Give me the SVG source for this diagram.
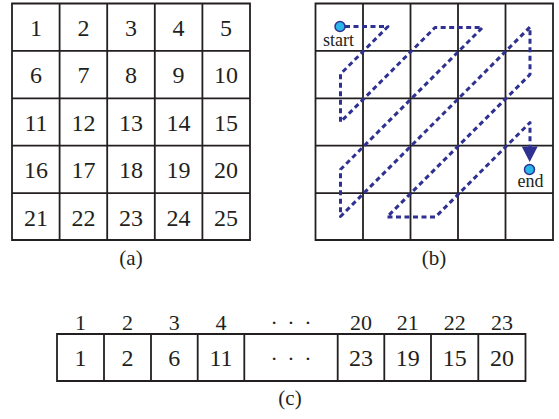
<svg xmlns="http://www.w3.org/2000/svg" width="559" height="419" viewBox="0 0 559 419">
<style>
.g{fill:none;stroke:#231f20;stroke-width:1.8}
text{font-family:'Liberation Serif','DejaVu Serif',serif;fill:#231f20;text-anchor:middle}
.n{font-size:24px}
.t{font-size:21px}
.u{font-size:22px}
.s{font-size:18px}
.d{font-size:22px;letter-spacing:2px}
.p{fill:none;stroke:#2e3192;stroke-width:3;stroke-dasharray:5 3.5;stroke-linejoin:round}
.c{fill:#29b6e8;stroke:#2e3192;stroke-width:1.5}
</style>
<rect width="559" height="419" fill="#fff"/>
<g id="gridA">
<path class="g" d="M12 3.5H250V240H12Z M59.6 3.5V240 M107.2 3.5V240 M154.8 3.5V240 M202.4 3.5V240 M12 50.9H250 M12 98.3H250 M12 145.7H250 M12 193.1H250"/>
<g>
<text class="n" x="36" y="35.5">1</text><text class="n" x="83.5" y="35.5">2</text><text class="n" x="131" y="35.5">3</text><text class="n" x="178.5" y="35.5">4</text><text class="n" x="226" y="35.5">5</text>
<text class="n" x="36" y="83">6</text><text class="n" x="83.5" y="83">7</text><text class="n" x="131" y="83">8</text><text class="n" x="178.5" y="83">9</text><text class="n" x="226" y="83">10</text>
<text class="n" x="36" y="130.5">11</text><text class="n" x="83.5" y="130.5">12</text><text class="n" x="131" y="130.5">13</text><text class="n" x="178.5" y="130.5">14</text><text class="n" x="226" y="130.5">15</text>
<text class="n" x="36" y="178">16</text><text class="n" x="83.5" y="178">17</text><text class="n" x="131" y="178">18</text><text class="n" x="178.5" y="178">19</text><text class="n" x="226" y="178">20</text>
<text class="n" x="36" y="225.5">21</text><text class="n" x="83.5" y="225.5">22</text><text class="n" x="131" y="225.5">23</text><text class="n" x="178.5" y="225.5">24</text><text class="n" x="226" y="225.5">25</text>
</g>
<text class="t" x="131" y="265">(a)</text>
</g>
<g id="gridB">
<path class="g" d="M315.5 3.5H553V240H315.5Z M363 3.5V240 M410.5 3.5V240 M458 3.5V240 M505.5 3.5V240 M315.5 50.9H553 M315.5 98.3H553 M315.5 145.7H553 M315.5 193.1H553"/>
<text class="t" x="434" y="265">(b)</text>
</g>
<g id="connectors">
<path class="p" d="M345 26.5H388L340.5 74V122L435 27.5H482.5L340.5 169.5V216.5L530 27V74.5L387 217H435.5L530 122.5V148"/>
<path d="M521.7 146.5H537.7L529.7 162Z" fill="#2e3192"/>
</g>
<g id="start">
<circle class="c" cx="340" cy="26.5" r="5"/>
<text class="s" x="338.5" y="46">start</text>
</g>
<g id="end">
<circle class="c" cx="529.5" cy="169.5" r="5"/>
<text class="s" x="530.5" y="187">end</text>
</g>
<g id="array">
<path class="g" d="M57 334H525.5V381H57Z M104 334V381 M151 334V381 M197.7 334V381 M244.3 334V381 M337.7 334V381 M384.3 334V381 M431 334V381 M478.3 334V381"/>
<text class="u" x="80.5" y="330">1</text><text class="u" x="127.5" y="330">2</text><text class="u" x="174.3" y="330">3</text><text class="u" x="221" y="330">4</text><text class="d" x="292" y="330">· · ·</text>
<text class="u" x="361" y="330">20</text><text class="u" x="407.7" y="330">21</text><text class="u" x="454.7" y="330">22</text><text class="u" x="502" y="330">23</text>
<text class="n" x="80.5" y="366">1</text><text class="n" x="127.5" y="366">2</text><text class="n" x="174.3" y="366">6</text><text class="n" x="221" y="366">11</text><text class="d" x="292" y="366">· · ·</text>
<text class="n" x="361" y="366">23</text><text class="n" x="407.7" y="366">19</text><text class="n" x="454.7" y="366">15</text><text class="n" x="502" y="366">20</text>
<text class="t" x="290" y="405">(c)</text>
</g>
</svg>
